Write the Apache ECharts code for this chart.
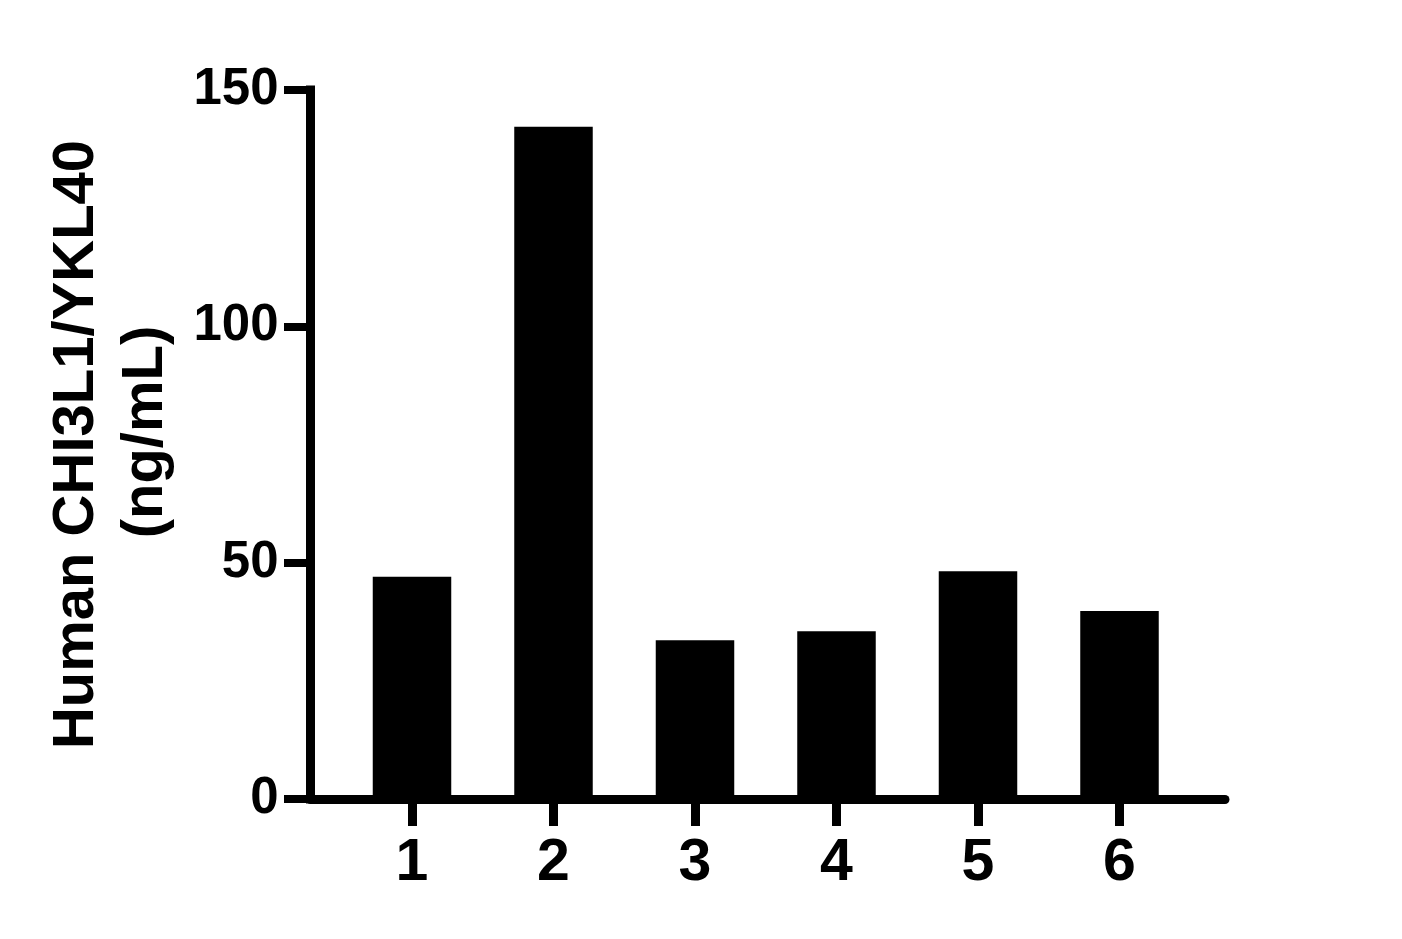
<!DOCTYPE html>
<html>
<head>
<meta charset="utf-8">
<script src="https://cdn.jsdelivr.net/npm/echarts@6/dist/echarts.min.js"></script>
<style>
html,body{margin:0;padding:0;background:#fff;}
#chart{width:1402px;height:939px;}
</style>
</head>
<body>
<div id="chart"></div>
<script>
const categories = ['1', '2', '3', '4', '5', '6'];
const values = [47.0, 142.2, 33.6, 35.5, 48.2, 39.8];
const yTicks = [0, 50, 100, 150];
const yTitleLine1 = 'Human CHI3L1/YKL40';
const yTitleLine2 = '(ng/mL)';

const positions = categories.map((c, i) => i + 1);
const FONT = '"Liberation Sans", Arial, sans-serif';
const titleStyle = {color: '#000', fontFamily: FONT, fontWeight: 'bold', fontSize: 58, lineHeight: 69};

const chart = echarts.init(document.getElementById('chart'), null, {renderer: 'canvas'});
chart.setOption({
  animation: false,
  backgroundColor: '#ffffff',
  grid: {left: 310.5, right: 177, top: 90, bottom: 140, containLabel: false},
  xAxis: {
    type: 'value',
    min: 0.2827,
    max: 6.7456,
    splitLine: {show: false},
    axisLine: {show: true, onZero: false, lineStyle: {color: '#000', width: 9}},
    axisTick: {show: true, length: 27, customValues: positions, lineStyle: {color: '#000', width: 9}},
    axisLabel: {
      show: true,
      customValues: positions,
      margin: 35,
      color: '#000',
      fontFamily: FONT,
      fontWeight: 'bold',
      fontSize: 59,
      formatter: v => categories[Math.round(v) - 1] || ''
    }
  },
  yAxis: {
    type: 'value',
    min: 0,
    max: 150,
    interval: 50,
    splitLine: {show: false},
    axisLine: {show: true, lineStyle: {color: '#000', width: 9, cap: 'square'}},
    axisTick: {show: true, length: 26.5, lineStyle: {color: '#000', width: 8}},
    axisLabel: {
      show: true,
      margin: 32,
      color: '#000',
      fontFamily: FONT,
      fontWeight: 'bold',
      fontSize: 51,
      customValues: yTicks
    },
    name: '{a|' + yTitleLine1 + '}\n{b|' + yTitleLine2 + '}',
    nameLocation: 'middle',
    nameGap: 130,
    nameRotate: 90,
    nameTextStyle: Object.assign({}, titleStyle, {
      align: 'center',
      rich: {
        a: Object.assign({}, titleStyle),
        b: Object.assign({}, titleStyle, {padding: [0, 0, 0, 25]})
      }
    })
  },
  series: [{
    type: 'bar',
    data: positions.map((p, i) => [p, values[i]]),
    barWidth: 78.5,
    itemStyle: {color: '#000'},
    z: 1
  }]
});
</script>
</body>
</html>
